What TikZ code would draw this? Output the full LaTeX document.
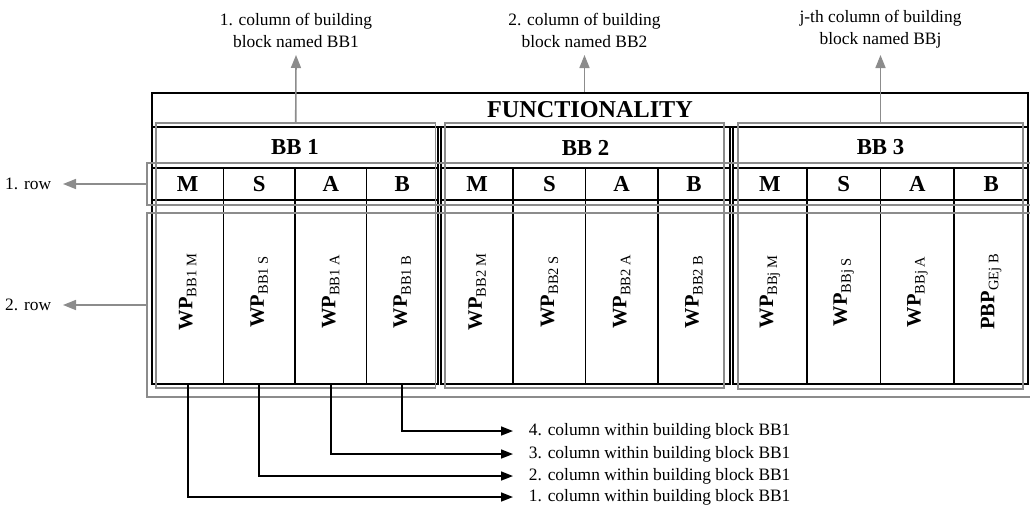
\documentclass[tikz,border=0pt]{standalone}
\usepackage{fontspec}
\setmainfont{Liberation Serif}
\usetikzlibrary{arrows.meta, positioning}

\definecolor{boxgray}{RGB}{140,140,140}
\newcommand{\wpsub}[2]{\textbf{#1}\raisebox{-4pt}{\fontsize{14.5}{16}\selectfont #2}}

\begin{document}
\begin{tikzpicture}[
  x=1pt, y=-1pt,
  line width=1.8pt,
  lbl/.style={font=\fontsize{17.4}{22}\selectfont, align=center},
  head/.style={draw, inner sep=0pt, minimum width=#1, font=\fontsize{22.8}{24}\selectfont\bfseries},
  hcell/.style={draw, inner sep=0pt, minimum width=#1, minimum height=32pt,
                font=\fontsize{22.8}{24}\selectfont\bfseries},
  body/.style={draw, inner sep=0pt, minimum width=#1, minimum height=184pt,
               font=\fontsize{20.5}{22}\selectfont},
  grp/.style={draw=boxgray, line width=1.6pt, inner sep=0pt},
  garrow/.style={draw=boxgray, line width=1.6pt, -{Triangle[length=13pt, width=10pt]}},
  barrow/.style={draw=black, line width=1.6pt, -{Triangle[length=12pt, width=9pt]}},
]
\useasboundingbox (0,0) rectangle (1030,507);

% table
\node[head=876pt, minimum height=34pt, font=\fontsize{24.2}{26}\selectfont\bfseries] (func) at (590,110) {FUNCTIONALITY};
\node[head=286pt, minimum height=41pt] (bb1) at (295,147.5) {BB 1};
\node[head=289pt, minimum height=41pt] (bb2) at (585.5,147.5) {BB 2};
\node[head=295pt, minimum height=41pt] (bb3) at (880.5,147.5) {BB 3};

\node[hcell=71.5pt] (h11) at (187.75,184) {M};
\node[hcell=71.5pt] (h12) at (259.25,184) {S};
\node[hcell=71.5pt] (h13) at (330.75,184) {A};
\node[hcell=71.5pt] (h14) at (402.25,184) {B};
\node[hcell=72.25pt] (h21) at (477.125,184) {M};
\node[hcell=72.25pt] (h22) at (549.375,184) {S};
\node[hcell=72.25pt] (h23) at (621.625,184) {A};
\node[hcell=72.25pt] (h24) at (693.875,184) {B};
\node[hcell=73.75pt] (h31) at (769.875,184) {M};
\node[hcell=73.75pt] (h32) at (843.625,184) {S};
\node[hcell=73.75pt] (h33) at (917.375,184) {A};
\node[hcell=73.75pt] (h34) at (991.125,184) {B};

\node[body=71.5pt] (wp11) at (187.75,292) {\rotatebox{90}{\wpsub{WP}{BB1 M}}};
\node[body=71.5pt] (wp12) at (259.25,292) {\rotatebox{90}{\wpsub{WP}{BB1 S}}};
\node[body=71.5pt] (wp13) at (330.75,292) {\rotatebox{90}{\wpsub{WP}{BB1 A}}};
\node[body=71.5pt] (wp14) at (402.25,292) {\rotatebox{90}{\wpsub{WP}{BB1 B}}};
\node[body=72.25pt] (wp21) at (477.125,292) {\rotatebox{90}{\wpsub{WP}{BB2 M}}};
\node[body=72.25pt] (wp22) at (549.375,292) {\rotatebox{90}{\wpsub{WP}{BB2 S}}};
\node[body=72.25pt] (wp23) at (621.625,292) {\rotatebox{90}{\wpsub{WP}{BB2 A}}};
\node[body=72.25pt] (wp24) at (693.875,292) {\rotatebox{90}{\wpsub{WP}{BB2 B}}};
\node[body=73.75pt] (wp31) at (769.875,292) {\rotatebox{90}{\wpsub{WP}{BBj M}}};
\node[body=73.75pt] (wp32) at (843.625,292) {\rotatebox{90}{\wpsub{WP}{BBj S}}};
\node[body=73.75pt] (wp33) at (917.375,292) {\rotatebox{90}{\wpsub{WP}{BBj A}}};
\node[body=73.75pt] (wp34) at (991.125,292) {\rotatebox{90}{\wpsub{PBP}{GEj B}}};

% gray groups
\node[grp, minimum width=279.5pt, minimum height=265pt] (gbb1) at (295.75,255.5) {};
\node[grp, minimum width=279pt, minimum height=265pt] (gbb2) at (584.5,255.5) {};
\node[grp, minimum width=285pt, minimum height=266pt] (gbb3) at (880.5,256) {};
\node[grp, minimum width=885pt, minimum height=42pt] (grow1) at (589.5,184) {};
\node[grp, minimum width=885pt, minimum height=184pt] (grow2) at (589.5,305) {};

% labels
\node[lbl, anchor=south, inner sep=6pt, yshift=2pt] (top1) at (296,57) {1. column of building\\block named BB1};
\node[lbl, anchor=south, inner sep=6pt, yshift=2pt] (top2) at (584.5,57) {2. column of building\\block named BB2};
\node[lbl, anchor=south, inner sep=6pt, yshift=2pt] (top3) at (880.5,57) {j-th column of building\\block named BBj};
\node[lbl, anchor=east, inner xsep=11pt] (row1) at (63,184) {1. row};
\node[lbl, anchor=east, inner xsep=11pt] (row2) at (63,305) {2. row};

\node[lbl, anchor=west, inner xsep=15pt] (col4) at (513,431) {4. column within building block BB1};
\node[lbl, anchor=west, inner xsep=15pt] (col3) at (513,454) {3. column within building block BB1};
\node[lbl, anchor=west, inner xsep=15pt] (col2) at (513,476) {2. column within building block BB1};
\node[lbl, anchor=west, inner xsep=15pt] (col1) at (513,497) {1. column within building block BB1};

% arrows
\draw[garrow] (gbb1.north) -- (top1.south);
\draw[garrow] (gbb2.north |- func.north) -- (top2.south);
\draw[garrow] (gbb3.north) -- (top3.south);
\draw[garrow] (grow1.west) -- (row1.east);
\draw[garrow] (grow2.west) -- (row2.east);

\draw[barrow] (wp14.south) |- (col4.west);
\draw[barrow] (wp13.south) |- (col3.west);
\draw[barrow] (wp12.south) |- (col2.west);
\draw[barrow] (wp11.south) |- (col1.west);

\end{tikzpicture}
\end{document}
